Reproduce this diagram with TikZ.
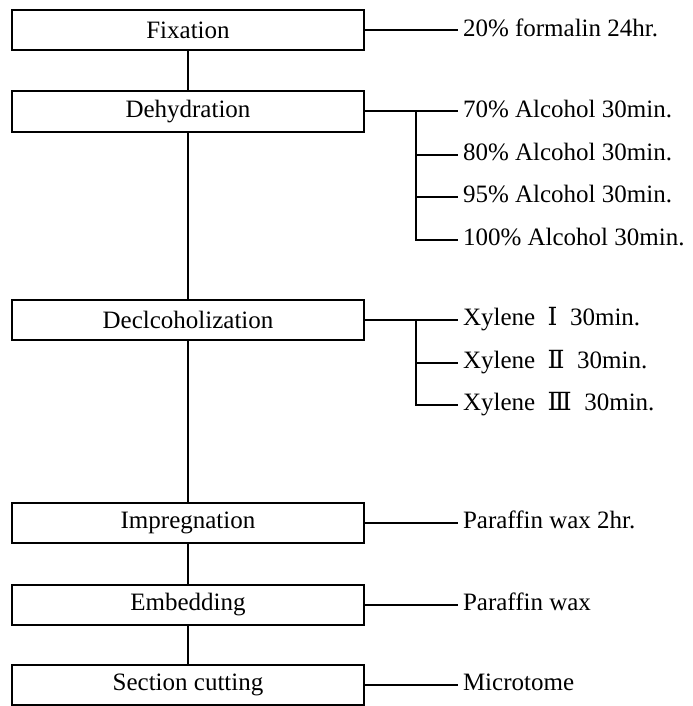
\documentclass[tikz,border=0pt]{standalone}
\usepackage{fontspec}
\setmainfont{Liberation Serif}
\newfontfamily\romanfont{DejaVu Serif}
\usepackage{tikz}
\usetikzlibrary{positioning}
\tikzset{
x=0.5pt, y=-0.5pt, % one unit is one pixel of the scan
stage/.style={draw, minimum width=176pt, minimum height=20pt, inner sep=0pt}, % the boxes on the left
info/.style={anchor=west, inner sep=2pt, text height=1.5ex, text depth=0.25ex}, % the texts on the right
}

\begin{document}
\begin{tikzpicture}[line width=1pt, font=\fontsize{12.5}{15}\selectfont]
		\useasboundingbox (0,0) rectangle (692,706);
		\node[stage] (1) at (188,30.5) {Fixation};
		\node[stage] (2) at (188,111.5) {Dehydration};
		\node[stage] (3) at (188,319.5) {Declcoholization};
		\node[stage] (4) at (188,523) {Impregnation};
		\node[stage] (5) at (188,604.5) {Embedding};
		\node[stage] (6) at (188,685) {Section cutting};
		\node[info] (1a) at (458,30.5) {20\% formalin 24hr.};
		\node[info] (2a) at (458,111.5) {70\% Alcohol 30min.};
		\node[info] (2b) at (458,155) {80\% Alcohol 30min.};
		\node[info] (2c) at (458,197) {95\% Alcohol 30min.};
		\node[info] (2d) at (458,240) {100\% Alcohol 30min.};
		\node[info] (3a) at (458,319.5) {Xylene\hspace{0.5em}{\romanfont Ⅰ}\hspace{0.5em}30min.};
		\node[info] (3b) at (458,363) {Xylene\hspace{0.5em}{\romanfont Ⅱ}\hspace{0.5em}30min.};
		\node[info] (3c) at (458,405) {Xylene\hspace{0.5em}{\romanfont Ⅲ}\hspace{0.5em}30min.};
		\node[info] (4a) at (458,523) {Paraffin wax 2hr.};
		\node[info] (5a) at (458,604.5) {Paraffin wax};
		\node[info] (6a) at (458,685) {Microtome};
		\coordinate (2br) at (416,111.5);
		\coordinate (3br) at (416,319.5);
		\draw (1) -- (2) (2) -- (3) (3) -- (4) (4) -- (5) (5) -- (6);
		\draw (1) -- (1a)
		(2) -- (2a) (2br) |- (2b.west) (2br) |- (2c.west) (2br) |- (2d.west)
%		the xylene steps
		(3) -- (3a) (3br) |- (3b.west) (3br) |- (3c.west)
		(4) -- (4a)
		(5) -- (5a)
		(6) -- (6a);
	\end{tikzpicture}
\end{document}
